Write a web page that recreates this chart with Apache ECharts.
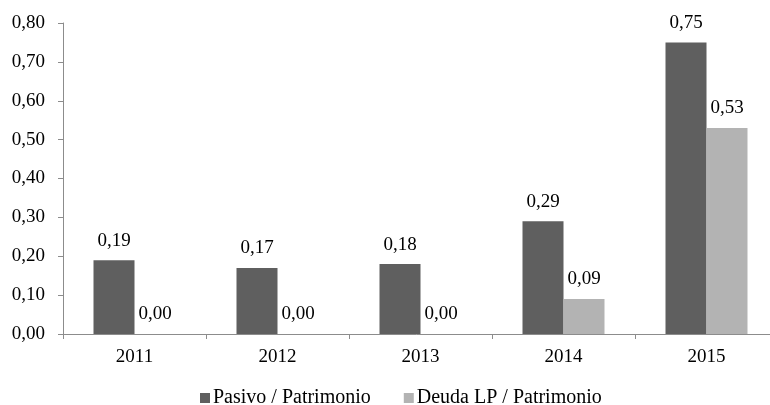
<!DOCTYPE html>
<html>
<head>
<meta charset="utf-8">
<script src="https://cdn.jsdelivr.net/npm/echarts@6/dist/echarts.min.js"></script>
<style>
  body { margin: 0; padding: 0; background: #fff; overflow: hidden; }
  #main { width: 770px; height: 405px; }
</style>
</head>
<body>
<div id="main"></div>
<script>
var years = ['2011', '2012', '2013', '2014', '2015'];
var pasivoPatrimonio = [0.19, 0.17, 0.18, 0.29, 0.75];
var deudaLpPatrimonio = [0.00, 0.00, 0.00, 0.09, 0.53];

var fmt = function (v) { return Number(v).toFixed(2).replace('.', ','); };
var font = 'Liberation Serif';

var chart = echarts.init(document.getElementById('main'));
chart.setOption({
  animation: false,
  textStyle: { fontFamily: font },
  // plot runs past the right edge, as in the cropped original
  grid: { left: 63, width: 715, top: 23, bottom: 71, outerBoundsMode: 'none' },
  legend: {
    top: 388,
    left: 200,
    padding: 0,
    itemWidth: 10,
    itemHeight: 10,
    itemGap: 33,
    icon: 'rect',
    textStyle: { fontFamily: font, fontSize: 20, color: '#000', padding: [0, 0, 0, -2] },
    data: ['Pasivo / Patrimonio', 'Deuda LP / Patrimonio']
  },
  xAxis: {
    type: 'category',
    data: years,
    axisLine: { lineStyle: { color: '#8c8c8c' } },
    axisTick: { show: true, length: 5, lineStyle: { color: '#8c8c8c' } },
    axisLabel: { color: '#000', fontSize: 19, fontFamily: font, margin: 14 }
  },
  yAxis: {
    type: 'value',
    min: 0,
    max: 0.8,
    interval: 0.1,
    axisLine: { show: true, lineStyle: { color: '#8c8c8c' } },
    axisTick: { show: true, length: 5, lineStyle: { color: '#8c8c8c' } },
    splitLine: { show: false },
    axisLabel: { color: '#000', fontSize: 19, fontFamily: font, margin: 18, formatter: fmt }
  },
  series: [
    {
      name: 'Pasivo / Patrimonio',
      type: 'bar',
      data: pasivoPatrimonio,
      barWidth: 41,
      barGap: '0%',
      itemStyle: { color: '#5f5f5f' },
      label: {
        show: true, position: 'top', distance: 10,
        color: '#000', fontSize: 19, fontFamily: font,
        formatter: function (p) { return fmt(p.value); }
      }
    },
    {
      name: 'Deuda LP / Patrimonio',
      type: 'bar',
      data: deudaLpPatrimonio,
      barWidth: 41,
      itemStyle: { color: '#b3b3b3' },
      label: {
        show: true, position: 'top', distance: 10,
        color: '#000', fontSize: 19, fontFamily: font,
        formatter: function (p) { return fmt(p.value); }
      }
    }
  ]
});
</script>
</body>
</html>
